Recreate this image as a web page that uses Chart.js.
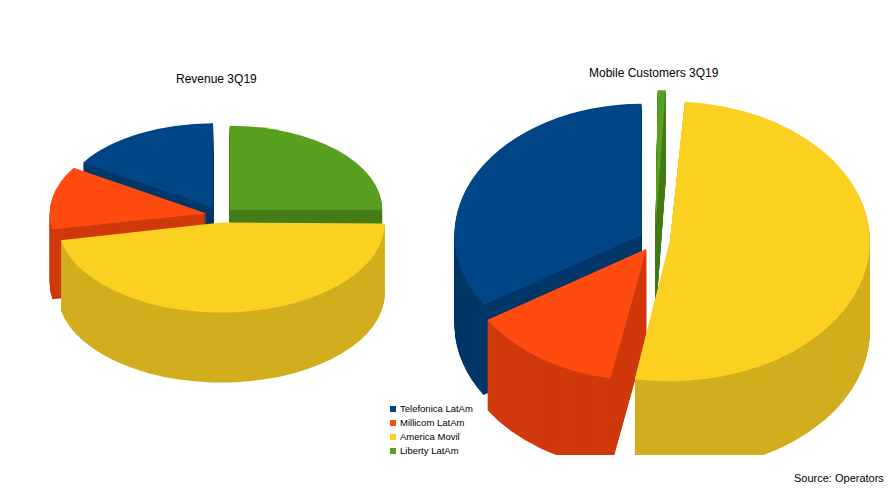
<!DOCTYPE html>
<html><head><meta charset="utf-8">
<script src="https://cdn.jsdelivr.net/npm/chart.js@4"></script>
<style>
body{margin:0;width:896px;height:504px;background:#fff;font-family:"Liberation Sans",Arial,sans-serif;position:relative;overflow:hidden}
canvas{position:absolute}
.t{position:absolute;font-size:12px;color:#000}
#legend{position:absolute;left:390px;top:402px;font-size:9.5px;line-height:14px}
#legend span{display:inline-block;width:6px;height:6px;margin-right:4px}
</style></head><body>
<div class="t" style="left:176px;top:72px">Revenue 3Q19</div>
<div class="t" style="left:589px;top:66px">Mobile Customers 3Q19</div>
<div class="t" style="left:794px;top:472px;font-size:11px">Source: Operators</div>
<div id="legend"></div>
<canvas id="rev" style="left:40px;top:35px" width="360" height="360"></canvas>
<canvas id="mob" style="left:440px;top:25px" width="430" height="430"></canvas>
<script>
// legend order
const operators = ["Telefonica LatAm", "Millicom LatAm", "America Movil", "Liberty LatAm"];
const topColors = ["#004585", "#ff4a10", "#fbd020", "#58a020"];
const sideColors = ["#003768", "#cf390c", "#d2ae1e", "#447c18"];
const revenueShare = [16, 12, 47, 25];
const mobileShare = [34, 13, 52, 1];

// slices are drawn clockwise from the top in reverse legend order
const rev = a => a.slice().reverse();

document.getElementById("legend").innerHTML = operators.map((n, i) =>
  `<div><span style="background:${topColors[i]}"></span>${n}</div>`).join("");

function pie3d(depth, sy) {
  return {
    id: "pie3d",
    beforeDatasetsDraw(chart) {
      const ctx = chart.ctx;
      const arcs = chart.getDatasetMeta(0).data;
      const {x, y} = arcs[0];
      const sides = rev(sideColors);
      for (let d = depth; d >= 1; d--) {
        ctx.save();
        ctx.translate(x, y + d);
        ctx.scale(1, sy);
        ctx.translate(-x, -y);
        arcs.forEach((arc, i) => {
          const fake = Object.create(arc);
          fake.options = new Proxy(arc.options, {
            get: (t, k) => k === "backgroundColor" ? sides[i] : t[k]
          });
          arc.draw.call(fake, ctx);
        });
        ctx.restore();
      }
      ctx.save();
      ctx.translate(x, y);
      ctx.scale(1, sy);
      ctx.translate(-x, -y);
    },
    afterDatasetsDraw(chart) { chart.ctx.restore(); }
  };
}

function makePie(id, values, offset, depth, sy) {
  new Chart(document.getElementById(id), {
    type: "pie",
    data: {
      labels: rev(operators),
      datasets: [{ data: rev(values), backgroundColor: rev(topColors), borderWidth: 0, offset: offset }]
    },
    options: {
      responsive: false, animation: false,
      plugins: { legend: { display: false }, tooltip: { enabled: false } }
    },
    plugins: [pie3d(depth, sy)]
  });
}

makePie("rev", revenueShare, 55, 70, 0.55);
makePie("mob", mobileShare, 60, 90, 0.7);
</script>
</body></html>
